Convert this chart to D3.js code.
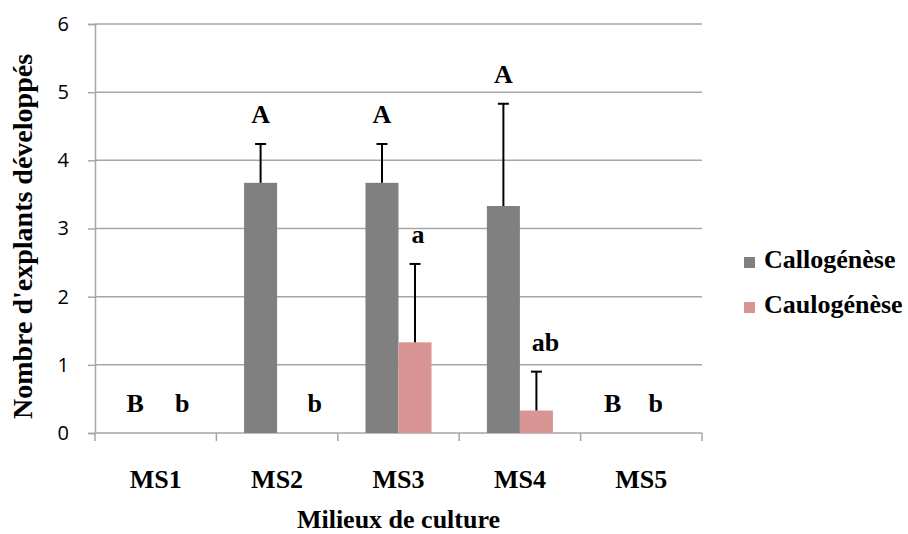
<!DOCTYPE html>
<html>
<head>
<meta charset="utf-8">
<script src="https://cdn.jsdelivr.net/npm/d3@7"></script>
<style>
  html, body { margin: 0; padding: 0; background: #fff; }
  svg { display: block; }
</style>
</head>
<body>
<svg id="chart" width="908" height="534"></svg>
<script>
// Culture media (x categories)
const categories = ["MS1", "MS2", "MS3", "MS4", "MS5"];
// Series names
const seriesNames = ["Callogénèse", "Caulogénèse"];
// Mean number of developed explants per medium
const callogenese = [0, 3.67, 3.67, 3.33, 0];
const caulogenese = [0, 0, 1.33, 0.33, 0];
// Standard deviation (upper error bar)
const callogeneseErr = [0, 0.57, 0.57, 1.50, 0];
const caulogeneseErr = [0, 0, 1.15, 0.57, 0];
// Significance letters
const callogeneseLetters = ["B", "A", "A", "A", "B"];
const caulogeneseLetters = ["b", "b", "a", "ab", "b"];
// Y axis ticks
const yTicks = [0, 1, 2, 3, 4, 5, 6];

const svg = d3.select("#chart");
const margin = { left: 95, right: 206, top: 24, bottom: 101 };
const W = 908, H = 534;
const x0 = margin.left, x1 = W - margin.right;
const yTop = margin.top, yBot = H - margin.bottom;

const x = d3.scaleBand().domain(categories).range([x0, x1]).paddingInner(0).paddingOuter(0);
const y = d3.scaleLinear().domain([0, 6]).range([yBot, yTop]);

const colors = ["#808080", "#d99594"];
const gridColor = "#a6a6a6";
const serif = "'Liberation Serif', 'Times New Roman', serif";

// Horizontal gridlines
svg.append("g")
  .selectAll("line")
  .data(yTicks.filter(d => d > 0))
  .join("line")
  .attr("x1", x0).attr("x2", x1)
  .attr("y1", d => y(d)).attr("y2", d => y(d))
  .attr("stroke", gridColor).attr("stroke-width", 1.5);

// Y axis
const yAxis = svg.append("g")
  .attr("transform", `translate(${x0},0)`)
  .call(d3.axisLeft(y).tickValues(yTicks).tickSize(7).tickPadding(19).tickFormat(d3.format("d")));
yAxis.select(".domain").attr("stroke", gridColor).attr("stroke-width", 1.5);
yAxis.selectAll(".tick line").attr("stroke", gridColor).attr("stroke-width", 1.5);
yAxis.selectAll(".tick text")
  .attr("font-family", "'Open Sans', sans-serif")
  .attr("font-size", 20).attr("fill", "#000");

// X axis with ticks at category boundaries
const xAxis = svg.append("g").attr("transform", `translate(0,${yBot})`);
xAxis.append("line")
  .attr("x1", x0).attr("x2", x1).attr("y1", 0).attr("y2", 0)
  .attr("stroke", gridColor).attr("stroke-width", 1.5);
const boundaries = categories.map(c => x(c)).concat([x1]);
xAxis.selectAll("line.tk")
  .data(boundaries)
  .join("line").attr("class", "tk")
  .attr("x1", d => d).attr("x2", d => d).attr("y1", 0).attr("y2", 8)
  .attr("stroke", gridColor).attr("stroke-width", 1.5);
xAxis.selectAll("text")
  .data(categories)
  .join("text")
  .attr("x", d => x(d) + x.bandwidth() / 2)
  .attr("y", 55)
  .attr("text-anchor", "middle")
  .attr("font-family", serif).attr("font-weight", "bold").attr("font-size", 26)
  .text(d => d);

// Bars
const bw = x.bandwidth() * 0.272;
const series = [
  { name: seriesNames[0], values: callogenese, err: callogeneseErr, letters: callogeneseLetters, color: colors[0], off: -1 },
  { name: seriesNames[1], values: caulogenese, err: caulogeneseErr, letters: caulogeneseLetters, color: colors[1], off: 0 }
];
const barX = (s, i) => x(categories[i]) + x.bandwidth() / 2 + s.off * bw;

// Extra horizontal shift of the letters placed over empty bars
const letterShift = [
  [-4, 0, 0, 0, -12],
  [10, 21, 3, 9, -2]
];

series.forEach((s, si) => {
  const g = svg.append("g");
  g.selectAll("rect")
    .data(s.values)
    .join("rect")
    .attr("x", (d, i) => barX(s, i))
    .attr("y", d => y(d))
    .attr("width", bw)
    .attr("height", d => y(0) - y(d))
    .attr("fill", s.color);

  // Error bars
  const eg = g.append("g");
  s.values.forEach((v, i) => {
    if (s.err[i] <= 0) return;
    const cx = barX(s, i) + bw / 2;
    eg.append("line")
      .attr("x1", cx).attr("x2", cx)
      .attr("y1", y(v)).attr("y2", y(v + s.err[i]))
      .attr("stroke", "#000").attr("stroke-width", 2);
    eg.append("line")
      .attr("x1", cx - 5.5).attr("x2", cx + 5.5)
      .attr("y1", y(v + s.err[i])).attr("y2", y(v + s.err[i]))
      .attr("stroke", "#000").attr("stroke-width", 2);
  });

  // Significance letters
  g.selectAll("text.letter")
    .data(s.letters)
    .join("text").attr("class", "letter")
    .attr("x", (d, i) => barX(s, i) + bw / 2 + letterShift[si][i])
    .attr("y", (d, i) => y(s.values[i] + s.err[i]) - 21)
    .attr("text-anchor", "middle")
    .attr("font-family", serif).attr("font-weight", "bold").attr("font-size", 26)
    .text(d => d);
});

// Axis titles
svg.append("text")
  .attr("x", (x0 + x1) / 2).attr("y", 528)
  .attr("text-anchor", "middle")
  .attr("font-family", serif).attr("font-weight", "bold").attr("font-size", 26)
  .text("Milieux de culture");

svg.append("text")
  .attr("transform", `translate(32,${(yTop + yBot) / 2 + 8}) rotate(-90)`)
  .attr("text-anchor", "middle")
  .attr("font-family", serif).attr("font-weight", "bold").attr("font-size", 28)
  .text("Nombre d'explants développés");

// Legend
const legend = svg.append("g").attr("transform", "translate(744,257)");
seriesNames.forEach((n, i) => {
  const row = legend.append("g").attr("transform", `translate(0,${i * 45})`);
  row.append("rect").attr("width", 11).attr("height", 11).attr("fill", colors[i]);
  row.append("text")
    .attr("x", 20).attr("y", 11)
    .attr("font-family", serif).attr("font-weight", "bold").attr("font-size", 26)
    .text(n);
});
</script>
</body>
</html>
